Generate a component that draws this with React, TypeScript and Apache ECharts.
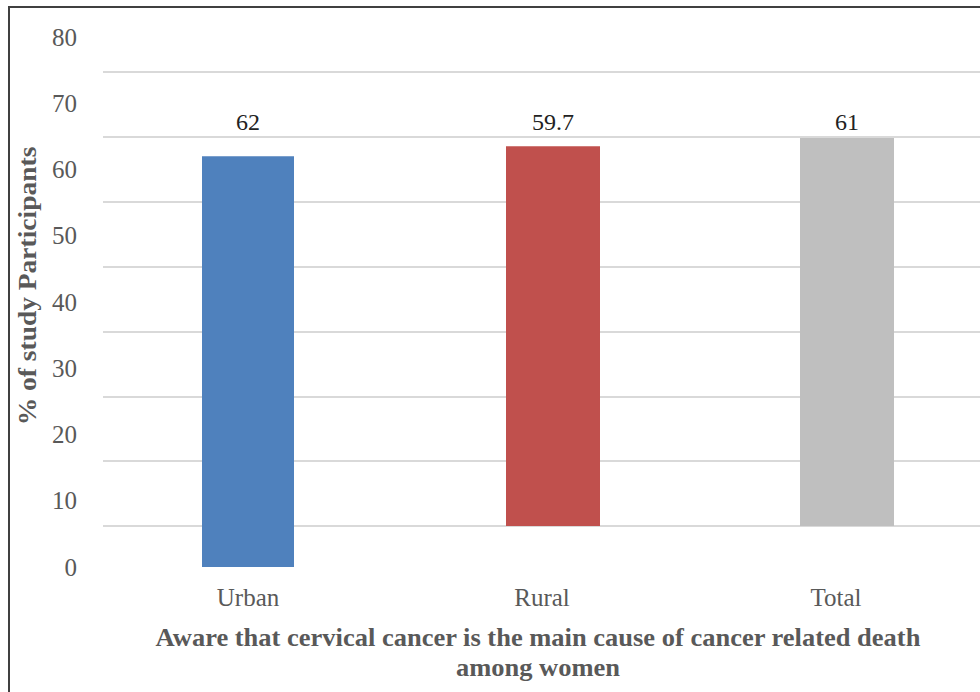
import React, { useEffect, useRef } from "react";
import * as echarts from "echarts";

const categories = ["Urban", "Rural", "Total"];
const urbanValues = [62, null, null];
const ruralTotalValues = [null, 59.7, 61];
const yTicks = [0, 80, 10]; // min, max, interval of the labelled axis

const yTitle = "% of study Participants";
const xTitleLines = [
  "Aware that cervical cancer is the main cause of cancer related death",
  "among women",
];

const FONT = "'Liberation Serif', 'Times New Roman', serif";
const GREY = "#595959";

export default function App() {
  const ref = useRef<HTMLDivElement>(null);

  useEffect(() => {
    if (!ref.current) return;
    const chart = echarts.init(ref.current, null, { renderer: "svg" });
    const hiddenAxis = { show: false };

    chart.setOption({
      animation: false,
      backgroundColor: "#ffffff",
      textStyle: { fontFamily: FONT },
      grid: [
        // labelled axis + Urban bar
        { left: 101, top: 37, width: 882, height: 530, outerBoundsMode: "none" },
        // horizontal gridlines
        { left: 103, top: 72, width: 900, height: 454, outerBoundsMode: "none" },
        // Rural / Total bars
        { left: 112, top: 80.8, width: 882, height: 445.2, outerBoundsMode: "none" },
      ],
      xAxis: [
        {
          type: "category",
          gridIndex: 0,
          data: categories,
          axisLine: { show: false },
          axisTick: { show: false },
          axisLabel: { color: GREY, fontSize: 25, fontFamily: FONT, margin: 18 },
        },
        { type: "value", gridIndex: 1, ...hiddenAxis },
        { type: "category", gridIndex: 2, data: categories, ...hiddenAxis },
      ],
      yAxis: [
        {
          type: "value",
          gridIndex: 0,
          min: yTicks[0],
          max: yTicks[1],
          interval: yTicks[2],
          splitLine: { show: false },
          axisLine: { show: false },
          axisTick: { show: false },
          axisLabel: { color: GREY, fontSize: 25, fontFamily: FONT, margin: 24 },
        },
        {
          type: "value",
          gridIndex: 1,
          min: 0,
          max: 70,
          interval: 10,
          axisLine: { show: false },
          axisTick: { show: false },
          axisLabel: { show: false },
          splitLine: { show: true, lineStyle: { color: "#d9d9d9", width: 2 } },
        },
        { type: "value", gridIndex: 2, min: 0, max: 70, ...hiddenAxis },
      ],
      series: [
        {
          type: "bar",
          xAxisIndex: 0,
          yAxisIndex: 0,
          barWidth: 92,
          data: urbanValues.map((v) =>
            v == null ? null : { value: v, label: { distance: 22 } }
          ),
          itemStyle: { color: "#4f81bd" },
          label: {
            show: true,
            position: "top",
            color: "#222222",
            fontSize: 24,
            fontFamily: FONT,
          },
        },
        {
          type: "bar",
          xAxisIndex: 2,
          yAxisIndex: 2,
          barWidth: 94,
          data: ruralTotalValues.map((v, i) =>
            v == null
              ? null
              : {
                  value: v,
                  itemStyle: { color: i === 1 ? "#c0504d" : "#bfbfbf" },
                  label: { distance: i === 1 ? 12 : 4 },
                }
          ),
          label: {
            show: true,
            position: "top",
            color: "#222222",
            fontSize: 24,
            fontFamily: FONT,
          },
        },
      ],
      graphic: [
        {
          type: "rect",
          shape: { x: 9, y: 7, width: 1000, height: 720 },
          style: { fill: "none", stroke: "#404040", lineWidth: 2 },
          z: 100,
        },
        {
          type: "text",
          x: 28,
          y: 286,
          rotation: Math.PI / 2,
          scaleX: 1.1,
          style: {
            text: yTitle,
            fill: GREY,
            font: `bold 25px ${FONT}`,
            textAlign: "center",
            textVerticalAlign: "middle",
          },
        },
        {
          type: "text",
          x: 538,
          y: 638,
          scaleX: 1.06,
          style: {
            text: xTitleLines[0],
            fill: GREY,
            font: `bold 25px ${FONT}`,
            textAlign: "center",
            textVerticalAlign: "middle",
          },
        },
        {
          type: "text",
          x: 538,
          y: 668,
          scaleX: 1.06,
          style: {
            text: xTitleLines[1],
            fill: GREY,
            font: `bold 25px ${FONT}`,
            textAlign: "center",
            textVerticalAlign: "middle",
          },
        },
      ],
    });

    return () => chart.dispose();
  }, []);

  return (
    <div
      ref={ref}
      style={{ position: "absolute", left: 0, top: 0, width: 980, height: 692 }}
    />
  );
}
